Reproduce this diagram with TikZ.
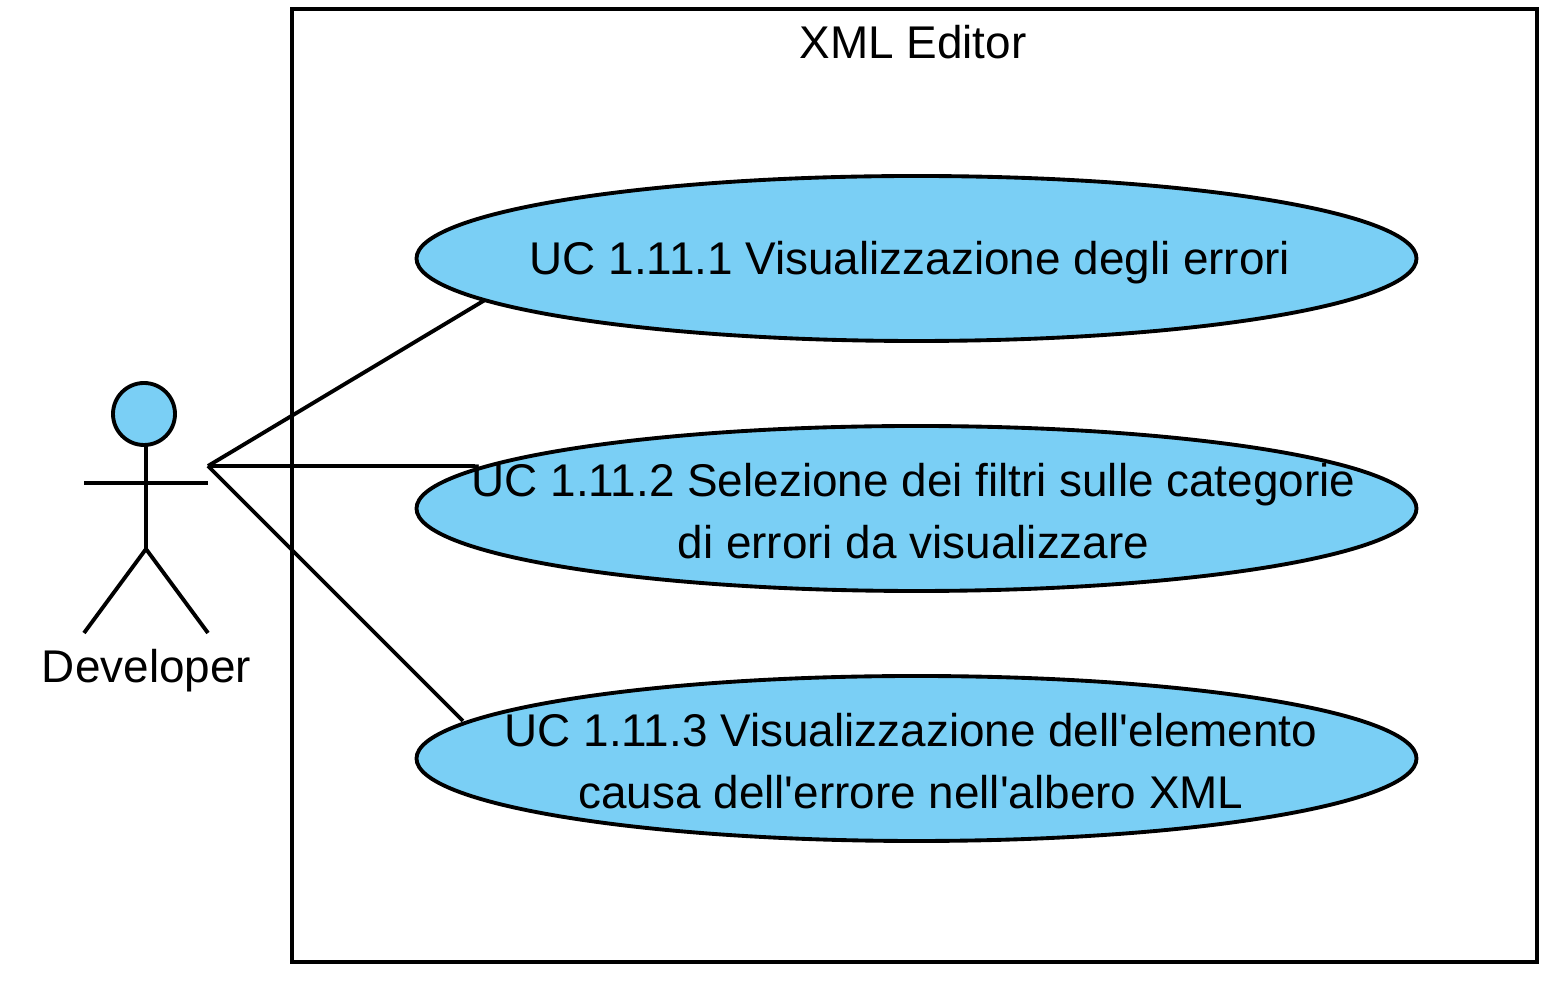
\documentclass[tikz,border=0pt]{standalone}
\usepackage{fontspec}
\setmainfont{Liberation Sans}
\usepackage{xcolor}
\usetikzlibrary{shapes.geometric}
\definecolor{ucblue}{RGB}{122,207,245}
\tikzset{
usecase/.style={ellipse,draw,fill=ucblue,line width=2.2pt,minimum width=20cm,minimum height=3.3cm,inner sep=0pt},
uclabel/.style={font=\fontsize{26.1}{35.2}\selectfont,align=center},
wire/.style={line width=2.2pt}
}
\begin{document}
\begin{tikzpicture}
\useasboundingbox(0,0)rectangle(31.16,19.66);
\draw[wire](5.84,19.48)rectangle(30.74,0.42);
\node[uclabel](title)at(18.26,18.82){XML Editor};
\coordinate(hand)at(4.16,10.34);
\coordinate(end1)at(9.7,13.66);
\coordinate(end2)at(9.5,10.34);
\coordinate(end3)at(9.26,5.24);
\node[usecase](uc1)at(18.33,14.49){};
\node[usecase](uc2)at(18.33,9.49){};
\node[usecase](uc3)at(18.33,4.49){};
\draw[wire](hand)--(end1);
\draw[wire](hand)--(end2);
\draw[wire](hand)--(end3);
\node[uclabel](label1)at(18.2,14.4){UC 1.11.1 Visualizzazione degli errori};
\node[uclabel](label2)at(18.27,9.44){UC 1.11.2 Selezione dei filtri sulle categorie\\di errori da visualizzare};
\node[uclabel](label3)at(18.22,4.44){UC 1.11.3 Visualizzazione dell\textquotesingle elemento\\causa dell\textquotesingle errore nell\textquotesingle albero XML};
% actor
\node[circle,draw,fill=ucblue,line width=2.2pt,minimum size=1.24cm,inner sep=0pt](head)at(2.88,11.38){};
\coordinate(neck)at(2.92,10.76);
\coordinate(hip)at(2.92,8.68);
\draw[wire](neck)--(hip);
\draw[wire](1.68,10)--(4.16,10);
\draw[wire](1.68,7)--(hip)--(4.16,7);
\node[uclabel](actor)at(2.93,6.24){Developer};
\end{tikzpicture}
\end{document}
